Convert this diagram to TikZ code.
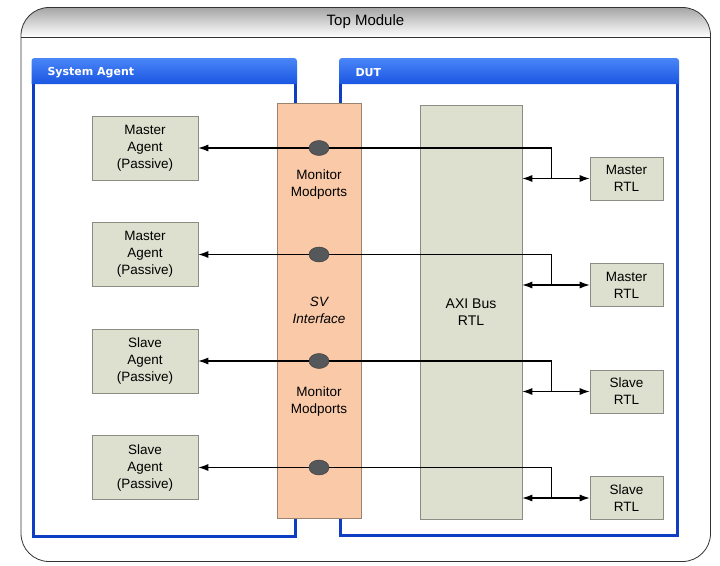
\documentclass[tikz,border=0pt]{standalone}
\usepackage{fontspec}
\setmainfont{Liberation Sans}
\newfontfamily\hdrfont{DejaVu Sans}
\usepackage{tikz}
\usetikzlibrary{arrows.meta}
\usetikzlibrary{positioning,shapes.geometric}
\definecolor{agentfill}{HTML}{DDE0CE}
\definecolor{agentline}{HTML}{8C8C84}
\definecolor{svfill}{HTML}{F9C9A8}
\definecolor{svline}{HTML}{9A8470}
\definecolor{panelblue}{HTML}{0F3EC4}
\definecolor{hdrtop}{HTML}{4A86F7}
\definecolor{hdrbot}{HTML}{1A56E2}
\definecolor{portgray}{HTML}{55585A}

\begin{document}
\begin{tikzpicture}[x=1pt,y=-1pt,>={Latex[length=10pt,width=7pt]},node distance=106.5pt,
  every node/.style={font=\fontsize{13.5}{17}\selectfont},
  agent/.style={draw=agentline,fill=agentfill,line width=0.6pt,minimum width=106pt,minimum height=64pt,align=center,inner sep=0pt},
  rtl/.style={agent,minimum width=73pt,minimum height=43pt},
  port/.style={ellipse,draw=black!80,fill=portgray,minimum width=20pt,minimum height=15pt,inner sep=0pt},
  panel/.style={draw=panelblue,line width=3pt,fill=white},
  hdr/.style={top color=hdrtop,bottom color=hdrbot},
  hdrtext/.style={font=\hdrfont\bfseries\fontsize{11}{13}\selectfont,text=white,anchor=west},
  link/.style={line width=1.1pt}]

  \useasboundingbox (0,0) rectangle (720,565);

  % top module frame
  \begin{scope}
    \clip[rounded corners=28pt] (21,7.5) rectangle (710.5,561.5);
    \shade[top color=black!35,bottom color=white] (21,7.5) rectangle (710.5,37);
  \end{scope}
  \draw[black!80,line width=0.8pt,rounded corners=28pt] (21,7.5) rectangle (710.5,561.5);
  \draw[black!80,line width=0.6pt] (21,37) -- (710.5,37);
  \node[font=\fontsize{15}{18}\selectfont] (top) at (365.5,22) {Top Module};

  % system agent and dut panels
  \draw[panel] (33,84) -- (33,536) -- (295.5,536) -- (295.5,84);
  \shade[hdr] (31.5,84) [rounded corners=3pt] -- (31.5,58) -- (297,58) [sharp corners] -- (297,84) -- cycle;
  \node[hdrtext] (sa) at (44,73) {System Agent};

  \draw[panel] (340.5,84) -- (340.5,535) -- (677.5,535) -- (677.5,84);
  \shade[hdr] (339,84) [rounded corners=3pt] -- (339,58) -- (679,58) [sharp corners] -- (679,84) -- cycle;
  \node[hdrtext] (dut) at (352,73) {DUT};

  % interface and bus
  \node[draw=svline,fill=svfill,line width=0.6pt,minimum width=84pt,minimum height=415pt,align=center,
        font=\fontsize{13.5}{17}\selectfont\itshape] (sv) at (319,310.5) {SV\\Interface};
  \node[agent,minimum width=102pt,minimum height=414pt,font=\fontsize{14}{17}\selectfont] (axi) at (471,312) {AXI Bus\\RTL};

  \node[align=center] (m1) at (319,185) {Monitor\\Modports};
  \node[align=center] (m2) at (319,402) {Monitor\\Modports};

  % agents
  \node[agent] (a1) at (145,148) {Master\\Agent\\(Passive)};
  \node[agent] (a2) [below of=a1] {Master\\Agent\\(Passive)};
  \node[agent] (a3) [below of=a2] {Slave\\Agent\\(Passive)};
  \node[agent] (a4) [below of=a3] {Slave\\Agent\\(Passive)};

  % rtl blocks
  \node[rtl] (r1) at (626.5,178.5) {Master\\RTL};
  \node[rtl] (r2) [below of=r1] {Master\\RTL};
  \node[rtl] (r3) [below of=r2] {Slave\\RTL};
  \node[rtl] (r4) [below of=r3] {Slave\\RTL};

  \foreach \i in {1,...,4}{
    \draw[link,<->] (axi.east |- r\i) -- (r\i.west);
    \draw[link,->] ([xshift=-38pt]r\i.west) |- (a\i.east);
  }
  \foreach \i in {1,...,4}
    \node[port] (p\i) at (sv |- a\i) {};

\end{tikzpicture}
\end{document}
